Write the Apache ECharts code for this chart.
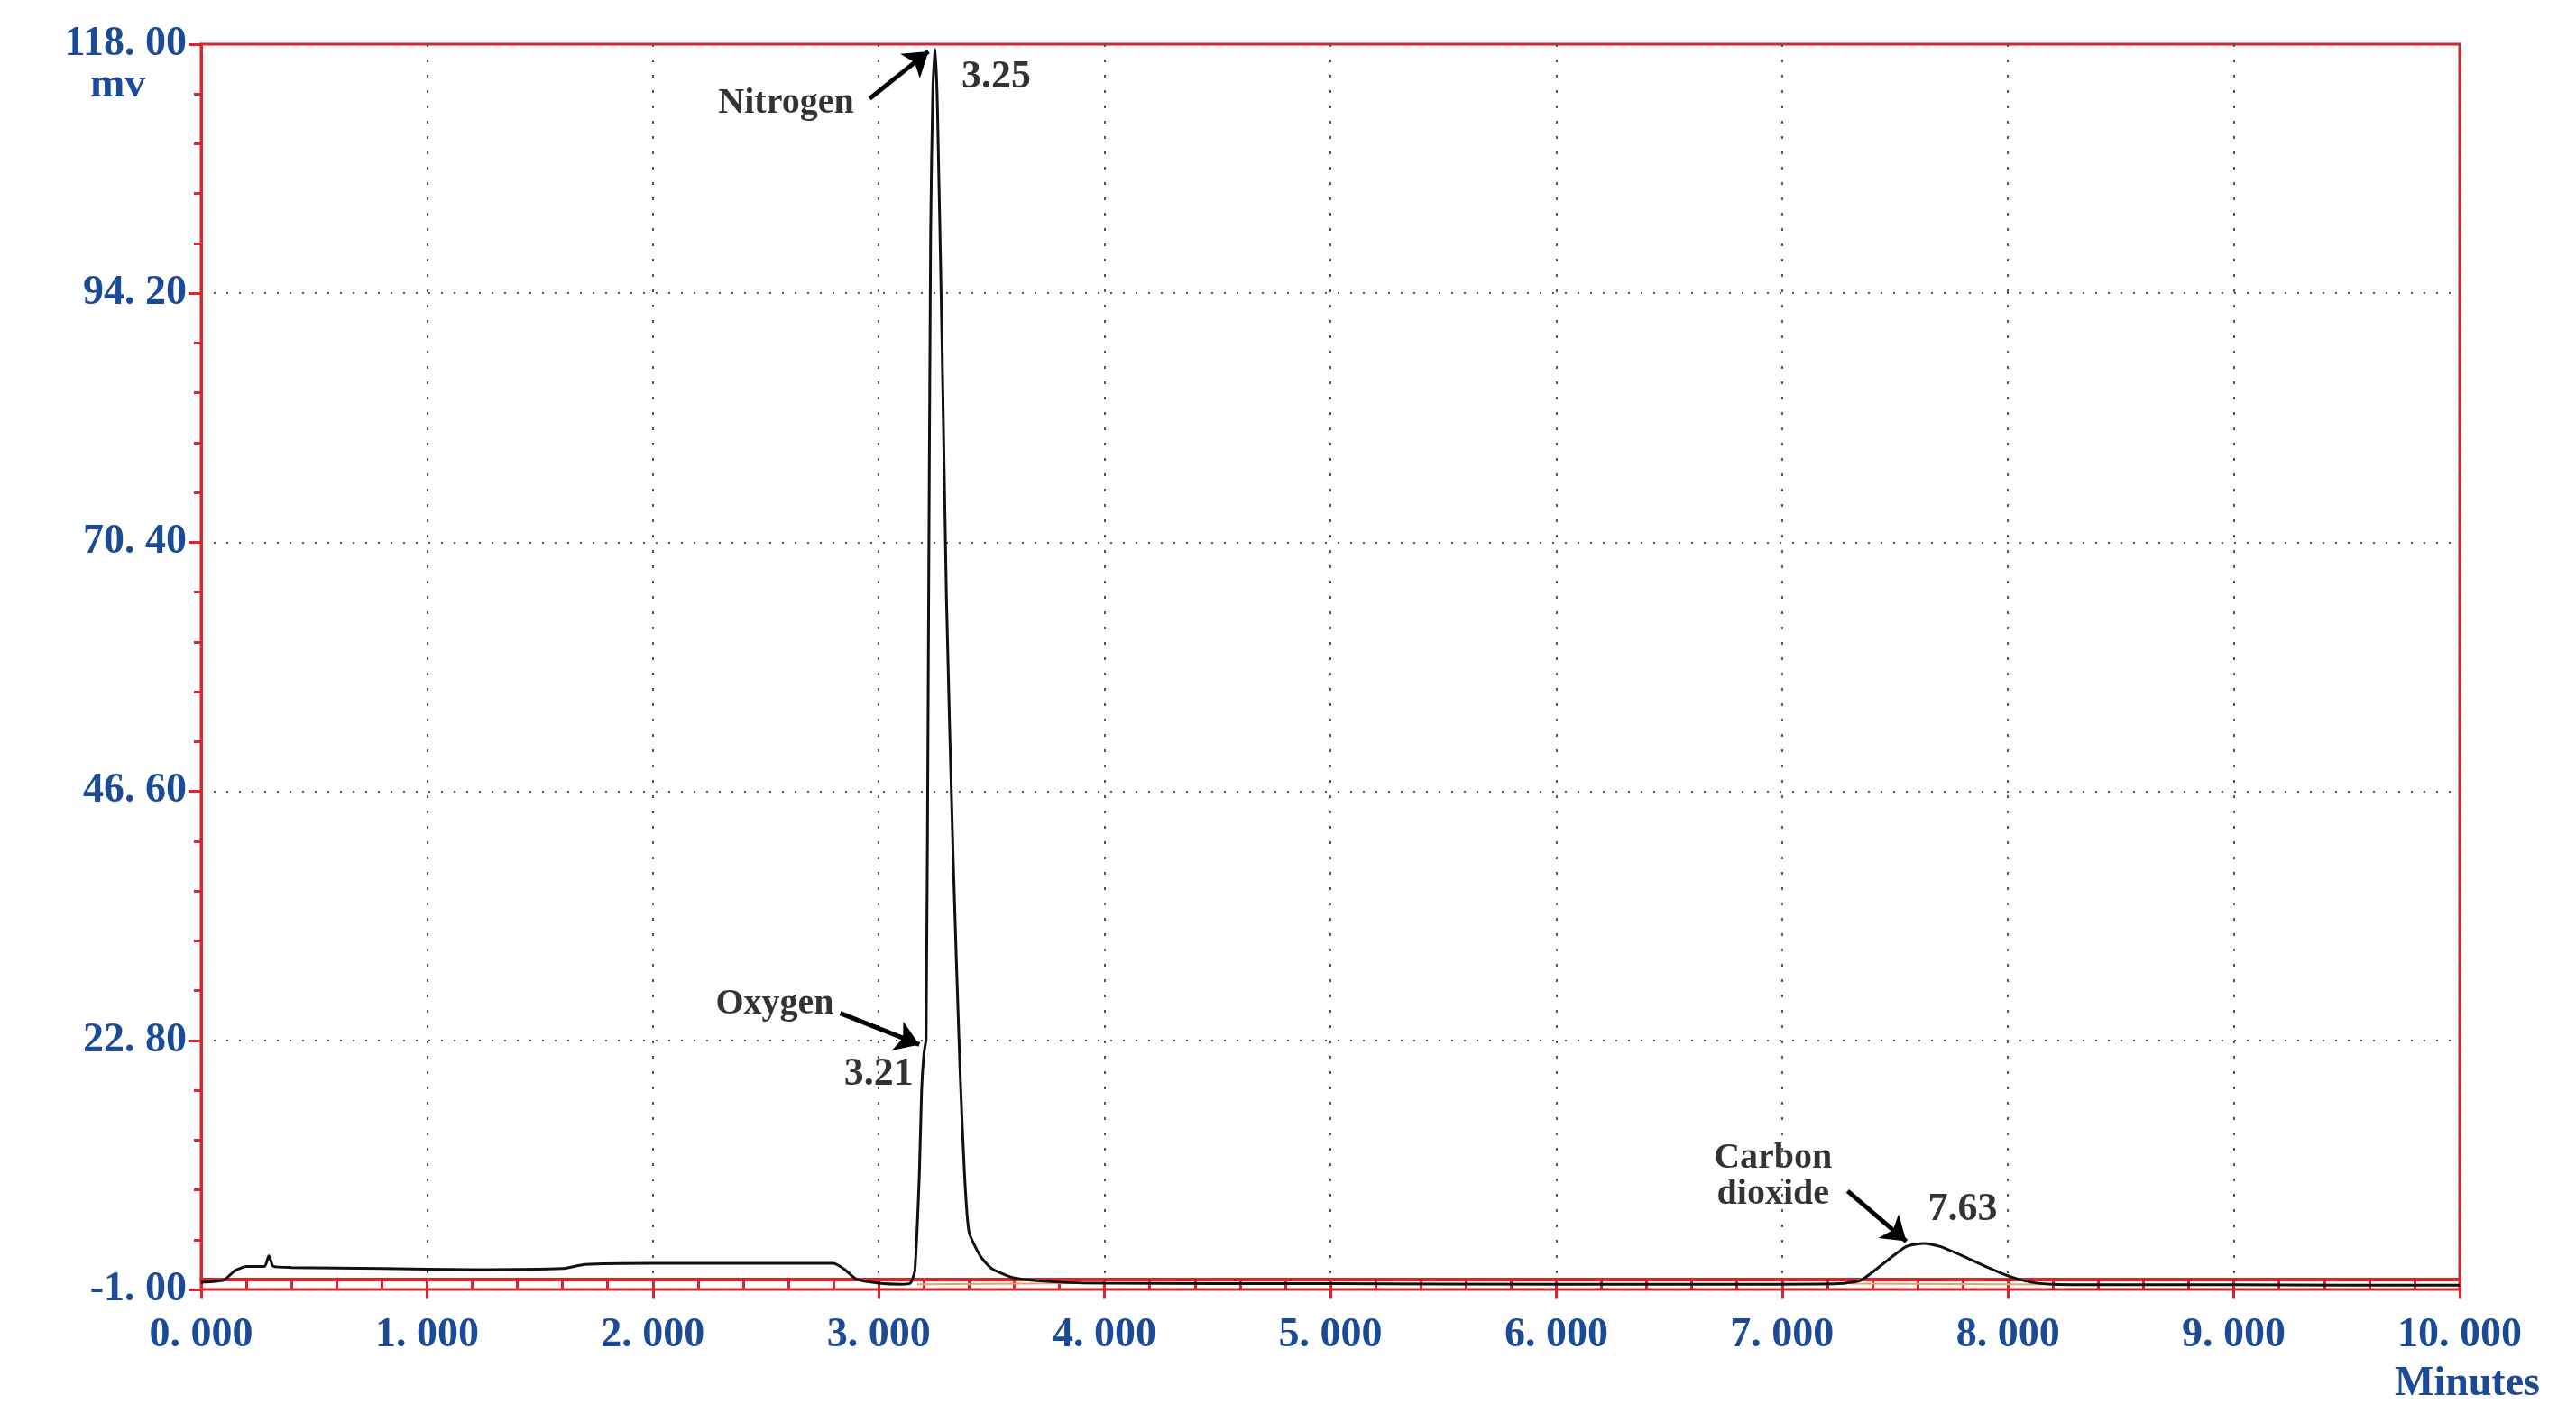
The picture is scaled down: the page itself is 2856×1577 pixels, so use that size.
<!DOCTYPE html>
<html>
<head>
<meta charset="utf-8">
<script src="https://cdn.jsdelivr.net/npm/echarts@6/dist/echarts.min.js"></script>
<style>html,body{margin:0;padding:0;background:#fff}#c{width:2856px;height:1577px}</style>
</head>
<body>
<div id="c"></div>
<script>
// retention time (minutes) and detector signal (mv)
var times = [0, 0.1, 0.15, 0.2, 0.28, 0.3, 0.32, 0.4, 0.8, 1.2, 1.6, 1.7, 2.0, 2.5, 2.8, 2.85, 2.9, 3.0, 3.1, 3.14, 3.16, 3.18, 3.19, 3.2, 3.21, 3.22, 3.23, 3.24, 3.25, 3.26, 3.28, 3.3, 3.33, 3.36, 3.38, 3.4, 3.45, 3.5, 3.6, 3.8, 4.0, 5.0, 6.0, 7.0, 7.25, 7.35, 7.45, 7.55, 7.63, 7.7, 7.8, 7.9, 8.0, 8.1, 8.2, 8.4, 9.0, 9.5, 10.0];
var signal = [-0.3, -0.1, 0.8, 1.2, 1.2, 2.2, 1.2, 1.1, 1.0, 0.9, 1.0, 1.4, 1.5, 1.5, 1.5, 0.9, 0.0, -0.4, -0.5, -0.4, 0.8, 10, 18, 21.5, 23, 60, 100, 114, 117.5, 112, 90, 65, 40, 20, 10, 4.5, 2.2, 1.0, 0.1, -0.3, -0.4, -0.45, -0.5, -0.5, -0.45, -0.1, 1.5, 3.1, 3.4, 3.1, 2.2, 1.2, 0.3, -0.3, -0.5, -0.55, -0.55, -0.6, -0.6];
var yTicks = [-1, 118];
var xTicks = [0, 10];
var peakNames = ['Nitrogen', 'Oxygen', 'Carbon\ndioxide'];
var peakTimes = ['3.25', '3.21', '7.63'];
// label anchors [time, mv]
var nameAt = [[2.59, 112.3], [2.54, 26.3], [6.96, 9.8]];
var timeAt = [[3.52, 114.8], [3.0, 19.5], [7.8, 6.6]];
var arrows = [[[2.96, 112.8], [3.22, 117.3]], [[2.83, 25.4], [3.18, 22.4]], [[7.29, 8.4], [7.55, 3.6]]];
var baseFrom = [[3.17, -0.5], [3.95, -0.4], [7.3, -0.45], [8.5, -0.55]];

var blue = '#1b4b96', red = '#d9252b';
var fontF = '"Liberation Serif", "DejaVu Serif", serif';
function fmt(v, d) { return v.toFixed(d).replace('.', '. '); }

var chart = echarts.init(document.getElementById('c'));
var notes = [];
for (var i = 0; i < peakNames.length; i++) {
  notes.push({ value: nameAt[i], label: { formatter: peakNames[i], lineHeight: 40 } });
  notes.push({ value: timeAt[i], label: { formatter: peakTimes[i], fontSize: 44 } });
}
chart.setOption({
  animation: false,
  grid: { left: 223, right: 129, top: 49, bottom: 147, show: true, borderColor: red, borderWidth: 3 },
  xAxis: {
    type: 'value', min: xTicks[0], max: xTicks[1], interval: 1,
    axisLine: { lineStyle: { color: red, width: 4 } },
    axisTick: { show: true, length: 22, lineStyle: { color: red, width: 3 } },
    minorTick: { show: true, splitNumber: 5, length: 12, lineStyle: { color: red, width: 3 } },
    splitLine: { show: true, lineStyle: { color: '#555', type: [3, 14], width: 2 } },
    axisLabel: { formatter: function (v) { return fmt(v, 3); }, color: blue, fontFamily: fontF, fontWeight: 'bold', fontSize: 46, margin: 28 }
  },
  yAxis: {
    type: 'value', min: yTicks[0], max: yTicks[1], interval: 23.8,
    axisLine: { show: true, lineStyle: { color: red, width: 3 } },
    axisTick: { show: true, length: 14, lineStyle: { color: red, width: 3 } },
    minorTick: { show: true, splitNumber: 5, length: 8, lineStyle: { color: red, width: 3 } },
    splitLine: { show: true, lineStyle: { color: '#555', type: [2, 12], width: 2 } },
    axisLabel: { formatter: function (v) { return fmt(v, 2); }, color: blue, fontFamily: fontF, fontWeight: 'bold', fontSize: 46, margin: 16 }
  },
  graphic: [
    { type: 'text', left: 100, top: 72, style: { text: 'mv', fill: blue, font: 'bold 46px ' + fontF } },
    { type: 'text', left: 2655, top: 1512, style: { text: 'Minutes', fill: blue, font: 'bold 46px ' + fontF } }
  ],
  series: [
    {
      type: 'line', data: baseFrom.slice(0, 2), symbol: 'none', z: 1,
      lineStyle: { color: '#e8a070', width: 2 }
    },
    {
      type: 'line', data: baseFrom.slice(2), symbol: 'none', z: 1,
      lineStyle: { color: '#e8a070', width: 2 }
    },
    {
      type: 'line', data: times.map(function (t, i) { return [t, signal[i]]; }),
      symbol: 'none', smooth: 0.2, z: 3, lineStyle: { color: '#111', width: 3 }
    },
    {
      type: 'lines', coordinateSystem: 'cartesian2d', z: 4,
      symbol: ['none', 'arrow'], symbolSize: 26,
      lineStyle: { color: '#000', width: 5, opacity: 1 },
      data: arrows.map(function (a) { return { coords: a }; })
    },
    {
      type: 'scatter', symbolSize: 0, z: 5, data: notes,
      label: { show: true, position: 'inside', color: '#000', fontFamily: fontF, fontWeight: 'bold', fontSize: 40 }
    }
  ]
});
</script>
</body>
</html>
